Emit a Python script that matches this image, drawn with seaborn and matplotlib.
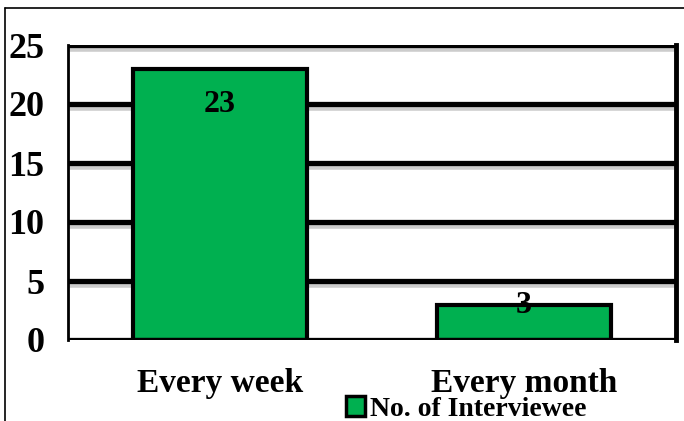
import matplotlib
matplotlib.use("Agg")
import matplotlib.pyplot as plt
import matplotlib.patheffects as pe
from matplotlib.lines import Line2D
from matplotlib.patches import Patch
import seaborn as sns
import pandas as pd

categories = ["Every week", "Every month"]
values = [23, 3]
series_name = "No. of Interviewee"
yticks = [0, 5, 10, 15, 20, 25]

sns.set_theme(style="white")
plt.rcParams['font.family'] = ['Liberation Serif', 'DejaVu Serif']
plt.rcParams['font.weight'] = 'bold'
plt.rcParams['text.color'] = 'black'
plt.rcParams['xtick.color'] = 'black'
plt.rcParams['ytick.color'] = 'black'

df = pd.DataFrame({"cat": categories, "val": values})

fig = plt.figure(figsize=(6.84, 4.21), dpi=100)
ax = fig.add_axes([68/684, 1-340/421, (676-68)/684, (340-45)/421])

green = "#00B050"
sns.barplot(data=df, x="cat", y="val", color=green, edgecolor="black",
            linewidth=3, width=0.57, ax=ax, zorder=3, saturation=1)

ax.set_ylim(0, 25)
ax.set_xlim(-0.5, 1.5)
ax.set_yticks(yticks)
ax.set_yticklabels([str(t) for t in yticks], fontsize=26, fontweight='bold', color='black')
ax.set_xticks(range(len(categories)))
ax.set_xticklabels(categories, fontsize=24, fontweight='bold', color='black')
ax.tick_params(axis='both', length=0, labelcolor='black')
ax.tick_params(axis='y', pad=17)
ax.tick_params(axis='x', pad=20)
ax.set_xlabel("")
ax.set_ylabel("")

shadow = [pe.SimpleLineShadow(offset=(0, -3), shadow_color='gray', alpha=0.4, linewidth=4), pe.Normal()]
for t in yticks[1:]:
    ax.axhline(t, color='black', linewidth=3.8, zorder=1, path_effects=shadow, solid_capstyle='butt')
ax.axhline(0, color='black', linewidth=3.8, zorder=4, path_effects=shadow, solid_capstyle='butt')

for s in ['top', 'bottom']:
    ax.spines[s].set_visible(False)
ax.spines['left'].set_color('black')
ax.spines['left'].set_linewidth(2)
ax.spines['right'].set_color('black')
ax.spines['right'].set_linewidth(3.5)

offsets = [-26, -1]
for i, v in enumerate(values):
    ax.annotate(str(v), xy=(i, v), xytext=(0, offsets[i]), textcoords='offset points',
                ha='center', va='center', fontsize=23, fontweight='bold', color='black', zorder=5)

handle = Patch(facecolor=green, edgecolor='black', linewidth=2.5)
fig.legend([handle], [series_name], loc='center', bbox_to_anchor=(466/684, 1-409/421),
           frameon=False, prop={'size': 20, 'weight': 'bold'}, handlelength=0.7,
           handleheight=0.7, handletextpad=0.15, borderpad=0, labelcolor='black')

fig.add_artist(Line2D([5/684, 1.0], [1-8/421, 1-8/421], color='black', linewidth=1.2, transform=fig.transFigure))
fig.add_artist(Line2D([5/684, 5/684], [1-8/421, 0], color='black', linewidth=1.2, transform=fig.transFigure))

fig.savefig("out.png", dpi=100)
